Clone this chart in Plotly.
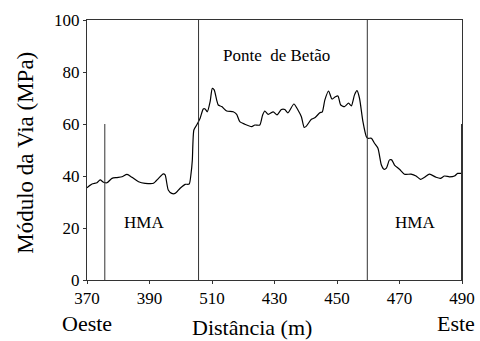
import plotly.graph_objects as go

# Track modulus along the section (distance in m, modulus in MPa)
distance = [370, 371.6, 373.2, 374.2, 375.3, 376.4, 378, 379.6, 381.2, 382.8, 384.4, 386.5,
            388.6, 391.3, 392.9, 394.4, 395, 396, 397.1, 398.2, 399.8, 401.4, 402.7, 403.3,
            403.7, 404.2, 405.1, 406.2, 407.2, 407.8, 408.5, 409.4, 410.1, 410.7, 411.5, 412,
            413.1, 414.7, 416.8, 417.9, 418.9, 420.5, 422.7, 423.7, 425.3, 426.2, 426.9, 428,
            429.6, 430.8, 432.2, 433.3, 434.3, 436.2, 437.5, 438.6, 439.5, 440.2, 441.8, 442.9,
            444.5, 445.3, 446.1, 447.3, 448.4, 449.5, 450.3, 451.2, 452.4, 453.7, 454.6, 455.6,
            456.4, 457.2, 458.3, 459.4, 459.9, 461, 462, 463.1, 464.2, 465, 465.8, 466.8, 467.5,
            468.4, 470, 471.6, 473.7, 475.3, 476.7, 478, 479.6, 481.7, 483.1, 484.4, 486, 487.6,
            488.6, 489.7]
modulus = [35.5, 36.9, 37.4, 38.5, 37.6, 37.4, 39.1, 39.4, 39.7, 40.6, 39.5, 37.8,
           37.2, 37.2, 39.1, 40.8, 40.4, 34.6, 33.3, 33.3, 35.3, 36.8, 36.9, 41,
           46, 57.7, 59.6, 62.2, 65.8, 65.8, 64.7, 68.6, 73.7, 73.1, 69.2, 67.3,
           66.7, 65, 64.7, 63.7, 60.9, 59.9, 59, 59.6, 59.6, 63.5, 65, 63.7,
           64.7, 63.5, 65.6, 65.6, 64.3, 67.7, 65.4, 62.8, 58.7, 59.2, 61.8, 62.4,
           64.3, 64.7, 69.2, 72.7, 69.6, 70.5, 70.8, 67.3, 66.7, 68, 67, 71.2,
           72.8, 69.9, 60.9, 55.1, 54.5, 54.5, 52.6, 50.7, 44.2, 42.6, 43, 46.2, 46.2,
           44.2, 42.6, 40.7, 40.7, 40, 38.7, 39.5, 40.7, 39.5, 39.1, 40, 39.7, 40,
           41, 41]

# Section boundaries (x position, top of the marker line in MPa)
boundary_x = [375.7, 405.7, 459.7, 490]
boundary_top = [60, 100, 100, 60]
boundary_width = [1, 1, 1, 2]

# Tick labels as printed on the original
tick_vals = [370, 390, 410, 430, 450, 470, 490]
tick_text = ["370", "390", "510", "430", "450", "470", "490"]
y_ticks = [0, 20, 40, 60, 80, 100]

# Region labels
region_labels = ["Ponte&nbsp;&nbsp;de Betão", "HMA", "HMA"]
region_x = [430.6, 388.3, 474.8]
region_y = [86.2, 22.1, 22.1]

FONT = "Liberation Serif"

fig = go.Figure()
fig.add_trace(go.Scatter(x=distance, y=modulus, mode="lines",
                         line=dict(color="black", width=1.2, shape="spline", smoothing=0.6),
                         hoverinfo="x+y", showlegend=False))

for bx, bt, bw in zip(boundary_x, boundary_top, boundary_width):
    fig.add_shape(type="line", xref="x", yref="y", x0=bx, x1=bx, y0=0, y1=bt,
                  line=dict(color="#333333", width=bw))

for txt, tx, ty in zip(region_labels, region_x, region_y):
    fig.add_annotation(x=tx, y=ty, xref="x", yref="y", text=txt, showarrow=False,
                       font=dict(family=FONT, size=17, color="black"))

# Axis titles and direction labels
fig.add_annotation(x=0.44, y=-0.183, xref="paper", yref="paper", text="Distância (m)",
                   showarrow=False, xanchor="center", yanchor="middle",
                   font=dict(family=FONT, size=22, color="black"))
fig.add_annotation(x=0.0, y=-0.168, xref="paper", yref="paper", text="Oeste",
                   showarrow=False, xanchor="center", yanchor="middle",
                   font=dict(family=FONT, size=22, color="black"))
fig.add_annotation(x=0.984, y=-0.168, xref="paper", yref="paper", text="Este",
                   showarrow=False, xanchor="center", yanchor="middle",
                   font=dict(family=FONT, size=22, color="black"))
fig.add_annotation(x=-0.165, y=0.49, xref="paper", yref="paper", text="Módulo da Via (MPa)",
                   textangle=-90, showarrow=False, xanchor="center", yanchor="middle",
                   font=dict(family=FONT, size=23, color="black"))

fig.update_layout(
    width=480, height=341,
    margin=dict(l=87, r=18, t=20, b=61, autoexpand=False),
    paper_bgcolor="white", plot_bgcolor="white",
    font=dict(family=FONT, size=17, color="black"),
    xaxis=dict(range=[370, 490], tickvals=tick_vals, ticktext=tick_text, automargin=False,
               showgrid=False, zeroline=False, showline=True, linecolor="#333333",
               linewidth=1, mirror=True, ticks="outside", ticklen=3, tickcolor="#333333",
               tickfont=dict(family=FONT, size=17)),
    yaxis=dict(range=[0, 100], tickvals=y_ticks, showgrid=False, zeroline=False, automargin=False,
               showline=True, linecolor="#333333", linewidth=1, mirror=True,
               ticks="outside", ticklen=3, tickcolor="#333333",
               tickfont=dict(family=FONT, size=17)),
)

fig.write_html("out.html")
